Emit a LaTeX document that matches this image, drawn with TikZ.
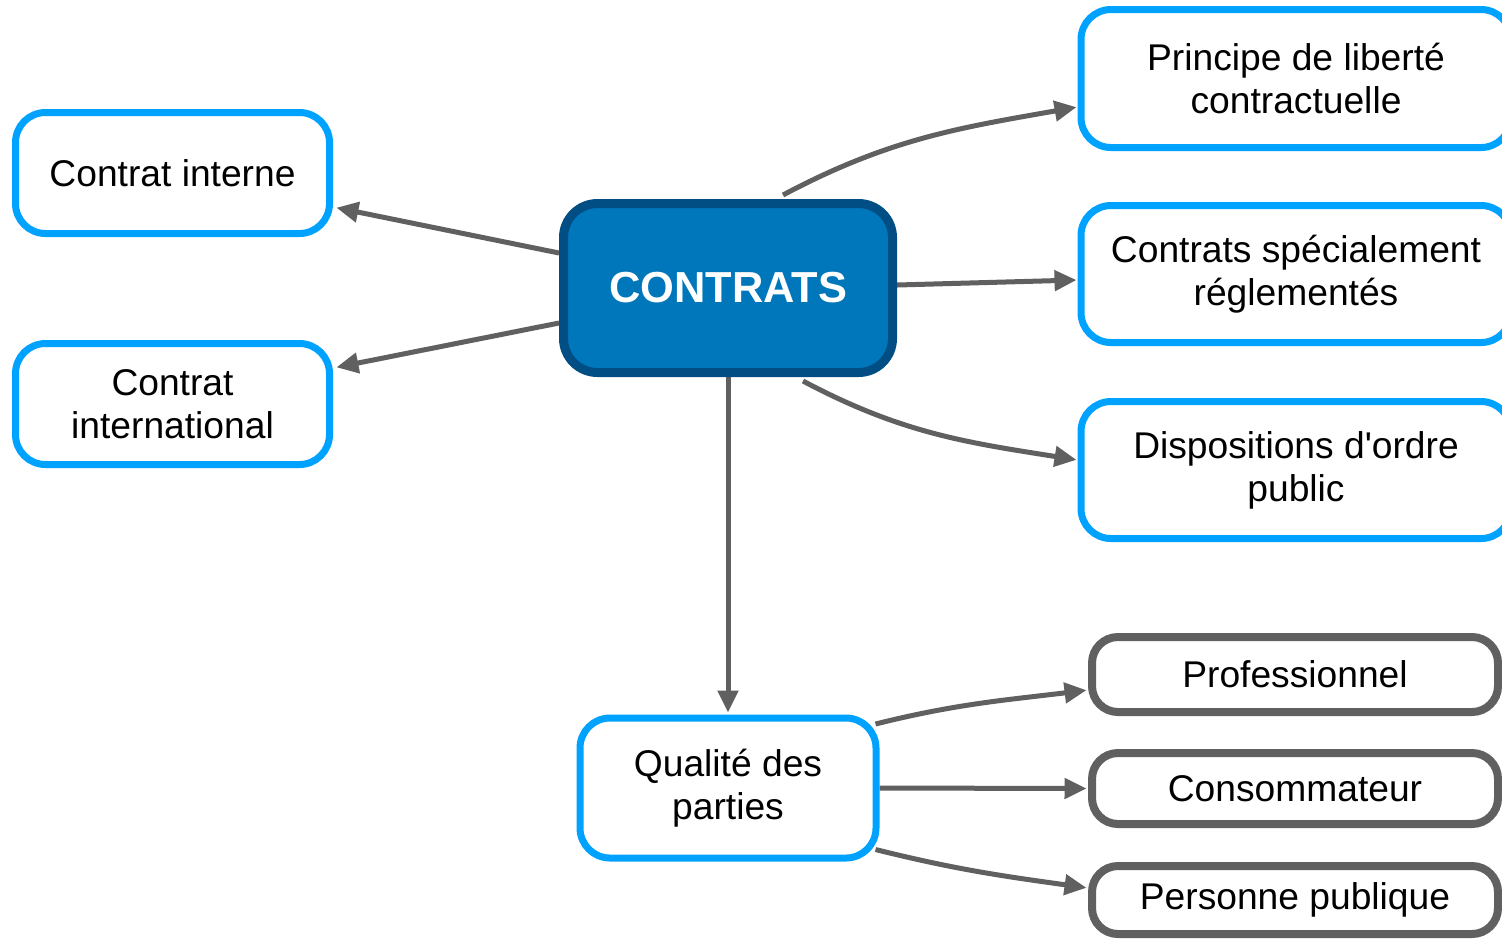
\documentclass[tikz,border=0pt]{standalone}
\usepackage{fontspec}
\setmainfont{Liberation Sans}[Ligatures=TeXOff]
\usetikzlibrary{arrows.meta,backgrounds}
\definecolor{lblue}{RGB}{0,162,255}
\definecolor{dblue}{RGB}{0,78,132}
\definecolor{fblue}{RGB}{0,118,187}
\definecolor{agrey}{RGB}{96,96,96}
\begin{document}
\begin{tikzpicture}[x=0.5pt,y=-0.5pt,
  txt/.style={font=\fontsize{18.6}{21.5}\selectfont,align=center,text=black},
  bluebox/.style={txt,draw=lblue,line width=3.5pt,fill=white,rounded corners=15pt,inner sep=0pt},
  greybox/.style={txt,draw=agrey,line width=4pt,fill=white,rounded corners=13pt,inner sep=0pt},
  mainbox/.style={draw=dblue,fill=fblue,line width=4.5pt,rounded corners=17pt,inner sep=0pt,
    text=white,font=\fontsize{21.7}{24}\selectfont\bfseries},
  conn/.style={draw=agrey,line width=2.5pt,-{Triangle[length=11pt,width=10pt]}}]
\useasboundingbox (0,0) rectangle (1502,939);
\node[mainbox,minimum width=164.5pt,minimum height=84.5pt] (ctr) at (728,288) {CONTRATS};
\node[bluebox,minimum width=157pt,minimum height=60.5pt] (ci) at (172.5,173) {Contrat interne};
\node[bluebox,minimum width=157pt,minimum height=60.5pt] (cin) at (172.5,404) {Contrat\\international};
\node[bluebox,minimum width=215pt,minimum height=69pt] (pr) at (1296,78.5) {Principe de liberté\\contractuelle};
\node[bluebox,minimum width=215pt,minimum height=68.5pt] (sp) at (1296,274) {Contrats spécialement\\réglementés};
\node[bluebox,minimum width=215pt,minimum height=68.5pt] (dp) at (1296,470) {Dispositions d'ordre\\public};
\node[bluebox,minimum width=148pt,minimum height=70pt] (ql) at (728,788) {Qualité des\\parties};
\node[greybox,minimum width=203pt,minimum height=37.5pt] (pf) at (1295,674.5) {Professionnel};
\node[greybox,minimum width=203pt,minimum height=35.5pt] (cs) at (1295,788.5) {Consommateur};
\node[greybox,minimum width=203pt,minimum height=34pt] (pp) at (1295,900) {Personne publique};
\begin{scope}[on background layer]
\draw[conn,shorten >=1.75pt] ([yshift=17.5pt]ctr.west) -- ([yshift=-17pt]ci.east);
\draw[conn,shorten >=1.75pt] ([yshift=-17.5pt]ctr.west) -- ([yshift=18pt]cin.east);
\draw[conn,shorten >=0.5pt] ([xshift=27.5pt,yshift=2pt]ctr.north) to[out=28,in=190] ([yshift=-14.25pt]pr.west);
\draw[conn,shorten >=0.5pt] ([yshift=1.5pt]ctr.east) -- ([yshift=-3pt]sp.west);
\draw[conn,shorten >=0.5pt] ([xshift=37.5pt,yshift=-2pt]ctr.south) to[out=-28,in=171] ([yshift=5pt]dp.west);
\draw[conn,shorten >=1pt] (ctr.south) -- (ql.north);
\draw[conn,shorten >=0.75pt] ([yshift=32pt,xshift=-2pt]ql.east) to[out=14,in=187] ([yshift=-7.75pt]pf.west);
\draw[conn,shorten >=0.75pt] (ql.east) -- (cs.west);
\draw[conn,shorten >=0.75pt] ([yshift=-30.75pt,xshift=-2pt]ql.east) to[out=-14,in=172] ([yshift=6pt]pp.west);
\end{scope}
\end{tikzpicture}
\end{document}
